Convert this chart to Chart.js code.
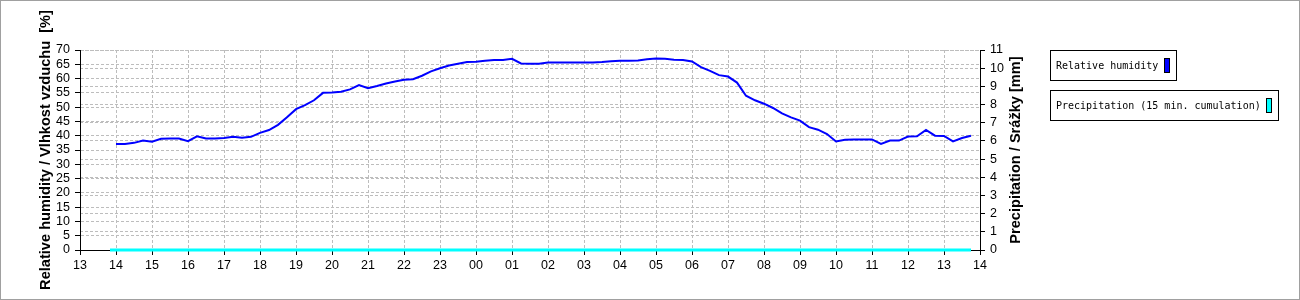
<!DOCTYPE html>
<html>
<head>
<meta charset="utf-8">
<script src="https://cdn.jsdelivr.net/npm/chart.js@4"></script>
<style>
  body { margin: 0; background: #fff; }
  canvas { display: block; }
</style>
</head>
<body>
<canvas id="chart" width="1300" height="300"></canvas>
<script>
// 15 minute readings, 14:00 one day to 13:45 the next
const times = [
  '14:00','14:15','14:30','14:45','15:00','15:15','15:30','15:45',
  '16:00','16:15','16:30','16:45','17:00','17:15','17:30','17:45',
  '18:00','18:15','18:30','18:45','19:00','19:15','19:30','19:45',
  '20:00','20:15','20:30','20:45','21:00','21:15','21:30','21:45',
  '22:00','22:15','22:30','22:45','23:00','23:15','23:30','23:45',
  '00:00','00:15','00:30','00:45','01:00','01:15','01:30','01:45',
  '02:00','02:15','02:30','02:45','03:00','03:15','03:30','03:45',
  '04:00','04:15','04:30','04:45','05:00','05:15','05:30','05:45',
  '06:00','06:15','06:30','06:45','07:00','07:15','07:30','07:45',
  '08:00','08:15','08:30','08:45','09:00','09:15','09:30','09:45',
  '10:00','10:15','10:30','10:45','11:00','11:15','11:30','11:45',
  '12:00','12:15','12:30','12:45','13:00','13:15','13:30','13:45'
];

const humidity = [
  37.1, 37.1, 37.5, 38.3, 37.9, 38.9, 39.0, 39.0,
  38.1, 39.8, 39.0, 39.0, 39.2, 39.6, 39.3, 39.6,
  41.0, 42.0, 43.8, 46.5, 49.3, 50.7, 52.4, 55.0,
  55.1, 55.4, 56.2, 57.7, 56.6, 57.4, 58.3, 59.0,
  59.6, 59.8, 61.0, 62.5, 63.6, 64.6, 65.2, 65.8,
  65.9, 66.2, 66.5, 66.5, 66.9, 65.3, 65.2, 65.2,
  65.6, 65.6, 65.6, 65.6, 65.6, 65.6, 65.8, 66.1,
  66.2, 66.2, 66.3, 66.8, 67.0, 66.9, 66.6, 66.5,
  66.0, 64.0, 62.7, 61.2, 60.7, 58.6, 54.0, 52.4,
  51.2, 49.7, 47.8, 46.4, 45.3, 43.0, 42.1, 40.6,
  38.0, 38.6, 38.7, 38.7, 38.7, 37.1, 38.3, 38.3,
  39.7, 39.8, 42.0, 40.0, 39.9, 38.0, 39.2, 40.0
];

const precipTimes = ['13:50', ...times];
const precip = [
  0,
  0, 0, 0, 0, 0, 0, 0, 0, 0, 0, 0, 0, 0, 0, 0, 0,
  0, 0, 0, 0, 0, 0, 0, 0, 0, 0, 0, 0, 0, 0, 0, 0,
  0, 0, 0, 0, 0, 0, 0, 0, 0, 0, 0, 0, 0, 0, 0, 0,
  0, 0, 0, 0, 0, 0, 0, 0, 0, 0, 0, 0, 0, 0, 0, 0,
  0, 0, 0, 0, 0, 0, 0, 0, 0, 0, 0, 0, 0, 0, 0, 0,
  0, 0, 0, 0, 0, 0, 0, 0, 0, 0, 0, 0, 0, 0, 0, 0
];

const xMin = 13, xMax = 38;
const humMax = 70, precMax = 11;

// clock times -> hours on one running axis; when the clock wraps, add a day
function toHours(list) {
  let day = 0, prev = -1;
  return list.map(t => {
    const [h, m] = t.split(':').map(Number);
    const v = h + m / 60;
    if (v < prev) day += 24;
    prev = v;
    return v + day;
  });
}

const tickFont = { family: 'Liberation Sans', size: 12.5 };
const titleFont = { family: 'Liberation Sans', size: 14.6, weight: 'bold' };
const gridCol = '#bdbdbd';
const dash = [3, 2];

const frame = {
  id: 'frame',
  beforeDraw(chart) {
    const c = chart.ctx;
    c.save();
    c.fillStyle = '#fff';
    c.fillRect(0, 0, chart.width, chart.height);
    c.restore();
  },
  afterDraw(chart) {
    const c = chart.ctx;
    c.save();
    c.strokeStyle = '#a0a0a0';
    c.lineWidth = 1;
    c.strokeRect(0.5, 0.5, chart.width - 1, chart.height - 1);

    // right axis title, reads bottom-to-top like the left one
    const area = chart.chartArea;
    c.save();
    c.translate(1016, (area.top + area.bottom) / 2);
    c.rotate(-Math.PI / 2);
    c.font = 'bold 14.6px "Liberation Sans"';
    c.fillStyle = '#000';
    c.textAlign = 'center';
    c.textBaseline = 'middle';
    c.fillText('Precipitation / Srážky [mm]', 0, 0);
    c.restore();

    // legend boxes
    const items = [
      { text: 'Relative humidity', color: '#0000ff', y: 50, w: 126 },
      { text: 'Precipitation (15 min. cumulation)', color: '#00ffff', y: 90, w: 228 }
    ];
    c.font = '10px "DejaVu Sans Mono"';
    c.textBaseline = 'middle';
    c.textAlign = 'left';
    items.forEach(it => {
      c.fillStyle = '#fff';
      c.fillRect(1050, it.y, it.w, 30);
      c.strokeStyle = '#000';
      c.strokeRect(1050.5, it.y + 0.5, it.w, 30);
      c.fillStyle = '#000';
      c.fillText(it.text, 1056, it.y + 16);
      const sx = 1050 + it.w - 12;
      c.fillStyle = it.color;
      c.fillRect(sx, it.y + 8, 6, 15);
      c.strokeRect(sx + 0.5, it.y + 8.5, 5, 14);
    });
    c.restore();
  }
};

const humX = toHours(times);
const precX = toHours(precipTimes);

new Chart(document.getElementById('chart'), {
  type: 'line',
  data: {
    datasets: [
      {
        label: 'Relative humidity',
        data: humX.map((x, i) => ({ x: x, y: humidity[i] })),
        borderColor: '#0000ff',
        borderWidth: 2,
        pointRadius: 0,
        tension: 0,
        yAxisID: 'y'
      },
      {
        label: 'Precipitation (15 min. cumulation)',
        data: precX.map((x, i) => ({ x: x, y: precip[i] })),
        borderColor: '#00ffff',
        borderWidth: 3,
        pointRadius: 0,
        tension: 0,
        yAxisID: 'y1',
        clip: 4
      }
    ]
  },
  options: {
    responsive: false,
    animation: false,
    devicePixelRatio: 1,
    layout: { padding: { left: 0, top: 50, right: 270, bottom: 0 } },
    plugins: { legend: { display: false }, tooltip: { enabled: false } },
    scales: {
      x: {
        type: 'linear',
        min: xMin,
        max: xMax,
        afterFit: s => { s.height = 50; },
        ticks: {
          stepSize: 1,
          autoSkip: false,
          maxRotation: 0,
          padding: 3,
          color: '#000',
          font: tickFont,
          callback: v => String(v % 24).padStart(2, '0')
        },
        grid: { color: gridCol, tickColor: '#000', tickLength: 5 },
        border: { color: '#000', dash: dash }
      },
      y: {
        position: 'left',
        min: 0,
        max: humMax,
        afterFit: s => { s.width = 80; },
        ticks: { stepSize: 5, autoSkip: false, padding: 5, color: '#000', font: tickFont },
        grid: { color: gridCol, tickColor: '#000', tickLength: 5 },
        border: { color: '#000', dash: dash },
        title: {
          display: true,
          text: 'Relative humidity / Vlhkost vzduchu  [%]',
          color: '#000',
          font: titleFont,
          padding: { top: 37, bottom: 0 }
        }
      },
      y1: {
        position: 'right',
        min: 0,
        max: precMax,
        afterFit: s => { s.width = 50; },
        ticks: { stepSize: 1, autoSkip: false, padding: 5, color: '#000', font: tickFont },
        grid: { color: gridCol, tickColor: '#000', tickLength: 5, drawOnChartArea: true },
        border: { color: '#000', dash: dash }
      }
    }
  },
  plugins: [frame]
});
</script>
</body>
</html>
